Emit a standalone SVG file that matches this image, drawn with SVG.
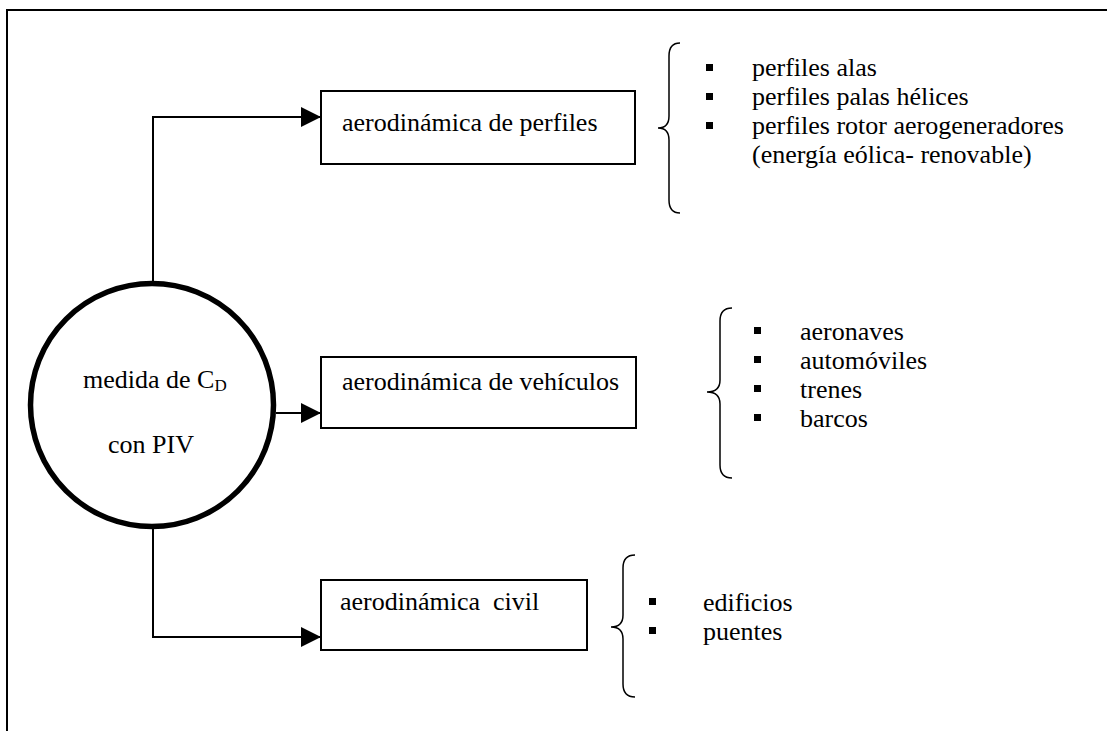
<svg xmlns="http://www.w3.org/2000/svg" width="1107" height="731" viewBox="0 0 1107 731" font-family="'Liberation Serif', 'Times New Roman', serif">
<style>
text{font-family:'Liberation Serif','Times New Roman',serif;font-size:26px;fill:#000}
.box{fill:#fff;stroke:#000;stroke-width:2}
.ln{fill:none;stroke:#000;stroke-width:2}
.br{fill:none;stroke:#000;stroke-width:1.5}
.bul{fill:#000}
</style>
<defs>
<marker id="ah" markerUnits="userSpaceOnUse" markerWidth="20" markerHeight="20" refX="20" refY="10" orient="auto">
<path d="M0,0 L20,10 L0,20 z" fill="#000"/>
</marker>
</defs>
<rect width="1107" height="731" fill="#fff"/>
<path class="ln" d="M7,731 L7,10 L1107,10"/>
<g id="connectors">
<path class="ln" d="M153,282 L153,117 L321,117" marker-end="url(#ah)"/>
<path class="ln" d="M276,413 L321,413" marker-end="url(#ah)"/>
<path class="ln" d="M153,529 L153,637 L321,637" marker-end="url(#ah)"/>
</g>
<g id="center">
<circle cx="152" cy="405" r="121.5" fill="#fff" stroke="#000" stroke-width="5.5"/>
<text x="83" y="388">medida de C<tspan font-size="17" dy="3">D</tspan></text>
<text x="108" y="453">con PIV</text>
</g>
<g id="perfiles">
<rect class="box" x="321" y="91" width="314" height="73"/>
<text x="342" y="131">aerodinámica de perfiles</text>
</g>
<g id="vehiculos">
<rect class="box" x="321" y="357" width="315" height="71"/>
<text x="342" y="390">aerodinámica de vehículos</text>
</g>
<g id="civil">
<rect class="box" x="321" y="580" width="266" height="70"/>
<text x="340" y="610" xml:space="preserve">aerodinámica  civil</text>
</g>
<g id="lista-perfiles">
<path class="br" d="M680,43 Q669,43 669,56 L669,116 Q669,128 658,128 Q669,128 669,140 L669,200 Q669,213 680,213"/>
<rect class="bul" x="706" y="64" width="7" height="7"/>
<rect class="bul" x="706" y="93" width="7" height="7"/>
<rect class="bul" x="706" y="122" width="7" height="7"/>
<text x="752" y="76">perfiles alas</text>
<text x="752" y="105">perfiles palas hélices</text>
<text x="752" y="134">perfiles rotor aerogeneradores</text>
<text x="752" y="163">(energía eólica- renovable)</text>
</g>
<g id="lista-vehiculos">
<path class="br" d="M732,308 Q720,308 720,321 L720,380 Q720,392 707,392 Q720,392 720,404 L720,465 Q720,478 732,478"/>
<rect class="bul" x="754" y="327" width="7" height="7"/>
<rect class="bul" x="754" y="356" width="7" height="7"/>
<rect class="bul" x="754" y="385" width="7" height="7"/>
<rect class="bul" x="754" y="414" width="7" height="7"/>
<text x="800" y="340">aeronaves</text>
<text x="800" y="369">automóviles</text>
<text x="800" y="398">trenes</text>
<text x="800" y="427">barcos</text>
</g>
<g id="lista-civil">
<path class="br" d="M635,555 Q623,555 623,568 L623,615 Q623,627 611,627 Q623,627 623,639 L623,684 Q623,697 635,697"/>
<rect class="bul" x="649" y="598" width="7" height="7"/>
<rect class="bul" x="649" y="627" width="7" height="7"/>
<text x="703" y="611">edificios</text>
<text x="703" y="640">puentes</text>
</g>
</svg>
